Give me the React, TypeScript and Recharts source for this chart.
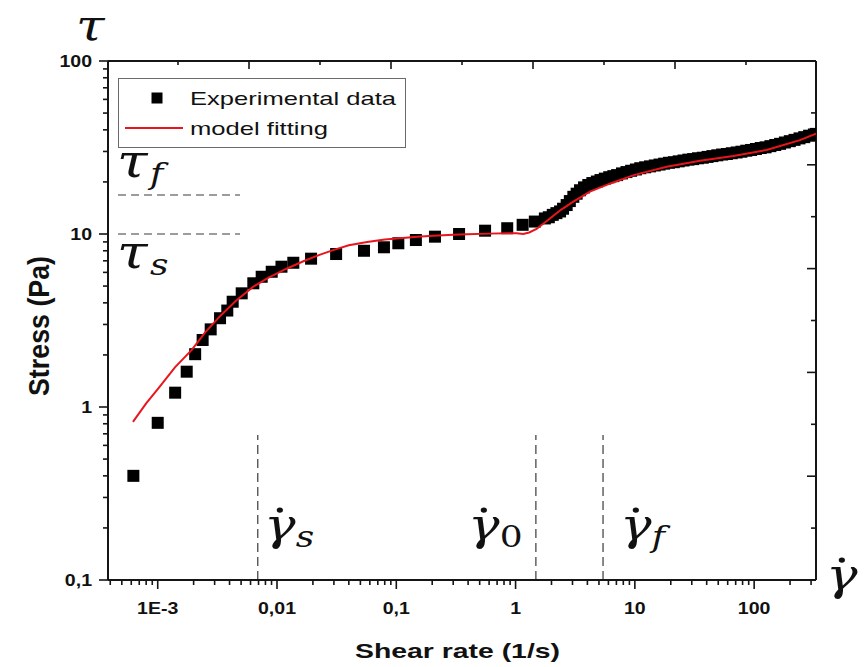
import React from 'react';
import { ScatterChart, Scatter, XAxis, YAxis, ReferenceLine, Legend } from 'recharts';

// measured points (shear rate 1/s, stress Pa)
const expRate = [
  0.000625, 0.001, 0.0014, 0.00175, 0.00206, 0.00238, 0.00278, 0.00333, 0.00383, 0.00425,
  0.00506, 0.00633, 0.00744, 0.00903, 0.0109, 0.0137, 0.0193, 0.0313, 0.0536, 0.0788,
  0.104, 0.146, 0.211, 0.336, 0.555, 0.851, 1.146, 1.45,
  1.76, 1.9, 2.05, 2.2, 2.36, 2.5, 2.68, 2.85, 3.05, 3.25, 3.47, 3.75, 4.07, 4.4, 4.8,
  5.15, 5.6, 6.1, 6.6, 7.1, 7.8, 8.5, 9.3, 10.2, 11.1, 12.2, 13.4, 14.7, 16.1, 17.6,
  19.3, 21.2, 23.3, 25.6, 28.1, 30.8, 33.8, 37.1, 40.7, 44.7, 49.1, 53.9, 59.1, 64.9,
  71.3, 78.2, 85.9, 94.3, 103.5, 113.6, 124.7, 136.9, 150.3, 165, 181, 199, 218, 240,
  263, 289, 317, 330,
];
const expStress = [
  0.4, 0.81, 1.21, 1.6, 2.02, 2.44, 2.81, 3.26, 3.61, 4.06,
  4.54, 5.19, 5.66, 6.05, 6.47, 6.82, 7.2, 7.66, 8.0, 8.38,
  8.84, 9.23, 9.65, 10.0, 10.45, 10.8, 11.3, 11.8,
  12.3, 12.5, 12.9, 13.2, 13.5, 14.0, 14.7, 15.5, 16.4, 17.1, 17.9, 18.6, 19.2, 19.7, 20.1,
  20.5, 20.9, 21.3, 21.6, 21.9, 22.4, 22.8, 23.2, 23.6, 24.0, 24.3, 24.6, 24.9, 25.2, 25.5,
  25.8, 26.0, 26.3, 26.6, 26.9, 27.1, 27.4, 27.6, 27.9, 28.2, 28.5, 28.8, 29.0, 29.3,
  29.6, 29.9, 30.3, 30.6, 31.0, 31.4, 31.7, 32.2, 32.7, 33.2, 33.8, 34.4, 35.0, 35.7,
  36.3, 37.0, 37.6, 37.9,
];

// model fitting curve
const fitRate = [
  0.00062, 0.0008, 0.00104, 0.0014, 0.00193, 0.0025, 0.00333, 0.0045, 0.00633, 0.0085,
  0.012, 0.017, 0.023, 0.03, 0.04, 0.057, 0.08, 0.107, 0.15, 0.204, 0.3, 0.389, 0.6,
  0.85, 1.02, 1.16, 1.3, 1.5, 1.94, 2.4, 3.05, 4.2, 6.24, 9.8, 18.5, 35.2, 66.9, 127,
  242, 330,
];
const fitStress = [
  0.82, 1.05, 1.31, 1.7, 2.14, 2.7, 3.35, 4.1, 4.96, 5.6,
  6.3, 7.0, 7.6, 8.1, 8.6, 9.0, 9.3, 9.45, 9.65, 9.78, 9.9, 9.96, 10.05,
  10.1, 10.1, 10.0, 10.2, 10.7, 12.3, 13.8, 15.4, 17.6, 19.6, 21.9, 24.5, 26.5, 28.2, 30.6,
  34.9, 38,
];

const xMajorTicks = [0.001, 0.01, 0.1, 1, 10, 100];
const xMajorLabels = ['1E-3', '0,01', '0,1', '1', '10', '100'];
const yMajorTicks = [0.1, 1, 10, 100];
const yMajorLabels = ['0,1', '1', '10', '100'];
const frameTicks = [1, 2, 3, 4, 5, 6, 7, 8, 9];

const rateMarks = [0.0069, 1.48, 5.41]; // dashed verticals
const stressMarks = [10, 16.8]; // dashed horizontals

const expData = expRate.map((x, i) => ({ x, y: expStress[i] }));
const fitData = fitRate.map((x, i) => ({ x, y: fitStress[i] }));

const X_DOMAIN = [3.83e-4, 330];
const Y_DOMAIN = [0.1, 100];

// plot box
const M = { top: 60, right: 49, bottom: 86, left: 107 };
const W = 866;
const H = 667;

const AXIS = '#151515';
const RED = '#e8161c';
const DASH = '#3a3a3a';
const SX = 1.15;
const SANS = '"Liberation Sans", Arial, sans-serif';
const SERIF = '"DejaVu Serif", serif';

function logTicks(lo, hi) {
  const out = [];
  for (let d = Math.floor(Math.log10(lo)); d <= Math.ceil(Math.log10(hi)); d++) {
    for (let k = 1; k <= 9; k++) {
      const v = parseFloat((k * Math.pow(10, d)).toPrecision(6));
      if (v >= lo && v <= hi) out.push(v);
    }
  }
  return out;
}

function majorIndex(v, majors) {
  return majors.findIndex((m) => Math.abs(Math.log10(m) - Math.log10(v)) < 1e-6);
}

const tickFont = { fontFamily: SANS, fontWeight: 700, fontSize: 17, fill: '#111' };

function BottomTick({ x, y, payload }) {
  const i = majorIndex(payload.value, xMajorTicks);
  return (<g>
    <line x1={x} x2={x} y1={y} y2={y + (i >= 0 ? 9 : 5)} stroke={AXIS} strokeWidth={1.6}/>
    {i >= 0 && (<text transform={`translate(${x},${y + 34}) scale(${SX},1)`} textAnchor="middle" {...tickFont}>
        {xMajorLabels[i]}
      </text>)}
  </g>);
}

function LeftTick({ x, y, payload }) {
  const i = majorIndex(payload.value, yMajorTicks);
  return (<g>
    <line x1={x} x2={x - (i >= 0 ? 9 : 5)} y1={y} y2={y} stroke={AXIS} strokeWidth={1.6}/>
    {i >= 0 && (<text transform={`translate(${x - 16},${y + 6}) scale(${SX},1)`} textAnchor="end" {...tickFont}>
        {yMajorLabels[i]}
      </text>)}
  </g>);
}

function RightTick({ x, y, payload }) {
  const major = payload.value % 2 === 0;
  return <line x1={x} x2={x - (major ? 9 : 5)} y1={y} y2={y} stroke={AXIS} strokeWidth={1.6}/>;
}

function Square({ cx, cy }) {
  if (cx == null || cy == null) return <g />;
  return <rect x={cx - 6} y={cy - 6} width={12} height={12} fill="#000"/>;
}

function Nothing() {
  return <g />;
}

function LegendBox() {
  return (<svg width={288} height={70} style={{ display: 'block' }}>
    <rect x={0.5} y={0.5} width={287} height={69} fill="#fff" stroke="#6a6a6a" strokeWidth={1}/>
    <rect x={33.5} y={14.5} width={11} height={11} fill="#000"/>
    <line x1={7} x2={65} y1={50} y2={50} stroke={RED} strokeWidth={2}/>
    <text x={72} y={27} fontFamily={SANS} fontSize={19} fill="#111" textLength={206} lengthAdjust="spacingAndGlyphs">
      Experimental data
    </text>
    <text x={72} y={57} fontFamily={SANS} fontSize={19} fill="#111" textLength={138} lengthAdjust="spacingAndGlyphs">
      model fitting
    </text>
  </svg>);
}

function Sym({ x, y, base, sub, size = 44, subSize = 30, dot = false }) {
  // italic glyph with optional dot above and a subscript, stretched like the figure
  return (<g transform={`translate(${x},${y}) scale(1.2,1)`}>
    <text x={0} y={0} fontFamily={SERIF} fontStyle="italic" fontSize={size} fill="#111">{base}</text>
    {dot && <circle cx={size * 0.3} cy={-size * 0.68} r={2.6} fill="#111"/>}
    {sub && (<text x={size * 0.6} y={size * 0.16} fontFamily={SERIF} fontStyle={sub === '0' ? 'normal' : 'italic'} fontSize={subSize} fill="#111">
        {sub}
      </text>)}
  </g>);
}

function Overlay() {
  const plotW = W - M.left - M.right;
  return (<svg width={W} height={H} style={{ position: 'absolute', left: 0, top: 0, pointerEvents: 'none' }}>
    {/* inner ticks of the top frame edge (plain linear spacing, as in the original frame) */}
    {frameTicks.map((k) => {
      const x = M.left + (k / 10) * plotW;
      return <line key={k} x1={x} x2={x} y1={M.top} y2={M.top + (k % 2 === 0 ? 9 : 5)} stroke={AXIS} strokeWidth={1.6}/>;
    })}
    <text x={355} y={658} fontFamily={SANS} fontWeight={700} fontSize={21} fill="#111" textLength={205} lengthAdjust="spacingAndGlyphs">
      Shear rate (1/s)
    </text>
    <g transform="translate(49,326) scale(1.25,1) rotate(-90)">
      <text x={0} y={0} textAnchor="middle" fontFamily={SANS} fontWeight={700} fontSize={23} fill="#111" textLength={140} lengthAdjust="spacingAndGlyphs">
        Stress (Pa)
      </text>
    </g>
    <Sym x={76} y={40} base="τ" size={43}/>
    <Sym x={117} y={177} base="τ" sub="f" size={46}/>
    <Sym x={117} y={268} base="τ" sub="s" size={46}/>
    <Sym x={264} y={540} base="γ" sub="s" dot/>
    <Sym x={468} y={540} base="γ" sub="0" dot/>
    <Sym x={620} y={540} base="γ" sub="f" dot/>
    <Sym x={826} y={590} base="γ" dot/>
  </svg>);
}

export default function App() {
  const xTicks = logTicks(X_DOMAIN[0], X_DOMAIN[1]);
  const yTicks = logTicks(Y_DOMAIN[0], Y_DOMAIN[1]);
  return (<div style={{ position: 'absolute', left: 0, top: 0, width: W, height: H, background: '#fff' }}>
    <ScatterChart width={W} height={H} margin={M}>
      <XAxis xAxisId={0} dataKey="x" type="number" scale="log" domain={X_DOMAIN} allowDataOverflow ticks={xTicks} interval={0} height={1} tickSize={0} tickMargin={0} tickLine={false} tick={BottomTick} stroke={AXIS} axisLine={{ stroke: AXIS, strokeWidth: 2 }}/>
      <XAxis xAxisId="frameTop" orientation="top" type="number" domain={[0, 10]} allowDataOverflow height={1} tick={false} tickLine={false} stroke={AXIS} axisLine={{ stroke: AXIS, strokeWidth: 2 }}/>
      <YAxis yAxisId={0} dataKey="y" type="number" scale="log" domain={Y_DOMAIN} allowDataOverflow ticks={yTicks} interval={0} width={1} tickSize={0} tickMargin={0} tickLine={false} tick={LeftTick} stroke={AXIS} axisLine={{ stroke: AXIS, strokeWidth: 2 }}/>
      <YAxis yAxisId="frameRight" orientation="right" dataKey="y" type="number" domain={[0, 10]} allowDataOverflow ticks={frameTicks} interval={0} width={1} tickSize={0} tickMargin={0} tickLine={false} tick={RightTick} stroke={AXIS} axisLine={{ stroke: AXIS, strokeWidth: 2 }}/>
      {stressMarks.map((s) => (<ReferenceLine key={`h${s}`} segment={[{ x: 4.65e-4, y: s }, { x: 0.0049, y: s }]} stroke={DASH} strokeWidth={1.2} strokeDasharray="8 5"/>))}
      {rateMarks.map((r) => (<ReferenceLine key={`v${r}`} segment={[{ x: r, y: 0.1 }, { x: r, y: 0.69 }]} stroke={DASH} strokeWidth={1.2} strokeDasharray="9 5"/>))}
      <Scatter name="Experimental data" data={expData} shape={Square} isAnimationActive={false}/>
      <Scatter name="model fitting" data={fitData} line={{ stroke: RED, strokeWidth: 2 }} lineType="joint" shape={Nothing} isAnimationActive={false}/>
      <Legend layout="horizontal" verticalAlign="middle" align="center" content={() => <LegendBox />} wrapperStyle={{ position: 'absolute', left: 118, top: 78, width: 288, height: 70 }}/>
    </ScatterChart>
    <Overlay />
  </div>);
}
